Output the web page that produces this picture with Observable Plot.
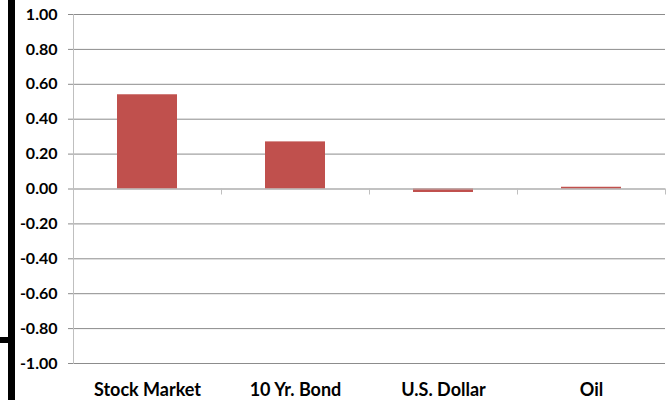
<!DOCTYPE html>
<html>
<head>
<meta charset="utf-8">
<script src="https://cdn.jsdelivr.net/npm/d3@7"></script>
<script src="https://cdn.jsdelivr.net/npm/@observablehq/plot@0.6"></script>
<style>
  html, body { margin: 0; padding: 0; background: #fff; }
  #wrap { position: relative; width: 669px; height: 400px; overflow: hidden; }
  #bar { position: absolute; left: 8px; top: 0; width: 7px; height: 400px; background: #000; }
  #stub { position: absolute; left: 0; top: 337px; width: 8px; height: 6px; background: #000; }
  #chart { position: absolute; left: 0; top: 0; }
</style>
</head>
<body>
<div id="wrap">
  <div id="chart"></div>
  <div id="bar"></div>
  <div id="stub"></div>
</div>
<script>
const categories = ["Stock Market", "10 Yr. Bond", "U.S. Dollar", "Oil"];
const values = [0.54, 0.27, -0.02, 0.01];
const yTicks = [-1.0, -0.8, -0.6, -0.4, -0.2, 0.0, 0.2, 0.4, 0.6, 0.8, 1.0];

const data = categories.map((c, i) => ({category: c, value: values[i]}));

const chart = Plot.plot({
  width: 669,
  height: 400,
  marginLeft: 73,
  marginRight: 4,
  marginTop: 14,
  marginBottom: 37,
  style: {fontFamily: "Lato, 'Open Sans', sans-serif", background: "#fff", color: "#000"},
  x: {domain: categories, padding: 0, label: null},
  y: {domain: [-1, 1], label: null},
  marks: [
    Plot.ruleY(yTicks, {stroke: "#8c8c8c"}),
    Plot.barY(data, {x: "category", y: "value", fill: "#C0504D", insetLeft: 44, insetRight: 44}),
    Plot.ruleY([0], {stroke: "#bfbfbf"}),
    Plot.frame({anchor: "left", stroke: "#bfbfbf"}),
    Plot.ruleX(categories, {y1: 0, y2: 0, insetBottom: -6, dx: 74, stroke: "#bfbfbf"}),
    Plot.axisY(yTicks, {tickSize: 5, tickPadding: 11, tickFormat: d => d.toFixed(2), stroke: "#8c8c8c", fill: "#000", fontSize: 16, fontWeight: "bold", label: null}),
    Plot.axisX({tickSize: 0, tickPadding: 20, fill: "#000", fontSize: 18, fontWeight: "bold", label: null})
  ]
});
document.getElementById("chart").appendChild(chart);
</script>
</body>
</html>
